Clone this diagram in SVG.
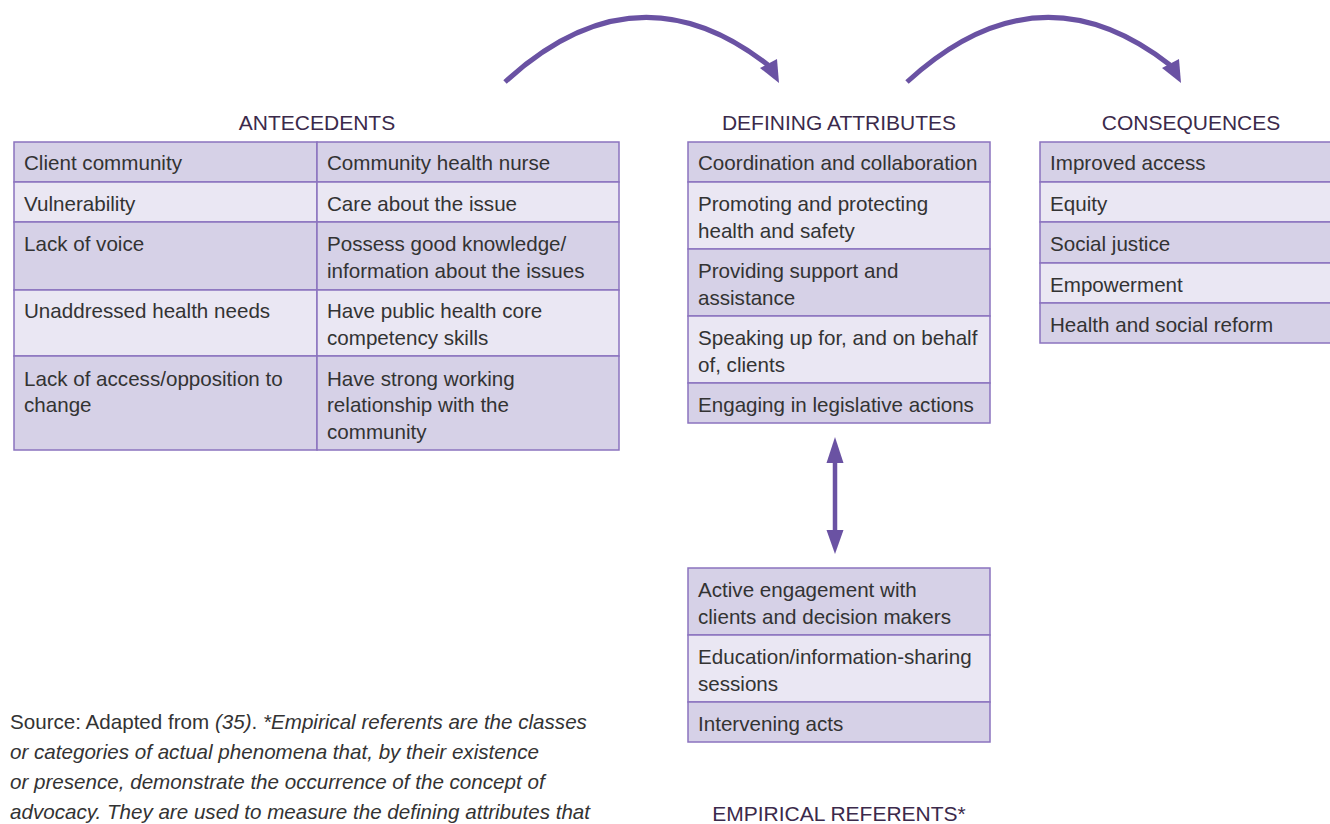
<svg xmlns="http://www.w3.org/2000/svg" width="1330" height="824" viewBox="0 0 1330 824">
<style>
  .dark { fill: #d6d1e7; stroke: #8b73bf; stroke-width: 1.5; }
  .light { fill: #eae7f3; stroke: #8b73bf; stroke-width: 1.5; }
  .t { font-family: "Liberation Sans", Arial, sans-serif; font-size: 20.6px; fill: #333333; }
  .h { font-family: "Liberation Sans", Arial, sans-serif; font-size: 21px; fill: #3b2a4b; text-anchor: middle; }
  .fn { font-family: "Liberation Sans", Arial, sans-serif; font-size: 20.6px; fill: #333333; }
  .it { font-style: italic; }
  .conn { fill: none; stroke: #6a52a3; }
  .head { fill: #6a52a3; }
</style>
<rect width="1330" height="824" fill="#ffffff"/>

<g id="connectors">
  <path class="conn" stroke-width="5" d="M505,82 Q636,-38 768,65"/>
  <polygon class="head" points="779,83 760,68 777,59"/>
  <path class="conn" stroke-width="5" d="M907,82 Q1038,-38 1170,65"/>
  <polygon class="head" points="1181,83 1162,68 1179,59"/>
  <line class="conn" stroke-width="4.5" x1="835" y1="460" x2="835" y2="532"/>
  <polygon class="head" points="835,437 826.5,463 843.5,463"/>
  <polygon class="head" points="835,554 826.5,530 843.5,530"/>
</g>

<g id="antecedents">
  <text class="h" x="317" y="130">ANTECEDENTS</text>
  <rect class="dark" x="14" y="142" width="303" height="40"/>
  <rect class="dark" x="317" y="142" width="302" height="40"/>
  <rect class="light" x="14" y="182" width="303" height="40"/>
  <rect class="light" x="317" y="182" width="302" height="40"/>
  <rect class="dark" x="14" y="222" width="303" height="68"/>
  <rect class="dark" x="317" y="222" width="302" height="68"/>
  <rect class="light" x="14" y="290" width="303" height="66"/>
  <rect class="light" x="317" y="290" width="302" height="66"/>
  <rect class="dark" x="14" y="356" width="303" height="94"/>
  <rect class="dark" x="317" y="356" width="302" height="94"/>
  <text class="t" x="24" y="170">Client community</text>
  <text class="t" x="327" y="170">Community health nurse</text>
  <text class="t" x="24" y="211">Vulnerability</text>
  <text class="t" x="327" y="211">Care about the issue</text>
  <text class="t" x="24" y="251">Lack of voice</text>
  <text class="t" x="327" y="251">Possess good knowledge/</text>
  <text class="t" x="327" y="278">information about the issues</text>
  <text class="t" x="24" y="318">Unaddressed health needs</text>
  <text class="t" x="327" y="318">Have public health core</text>
  <text class="t" x="327" y="345">competency skills</text>
  <text class="t" x="24" y="386">Lack of access/opposition to</text>
  <text class="t" x="24" y="412">change</text>
  <text class="t" x="327" y="386">Have strong working</text>
  <text class="t" x="327" y="412">relationship with the</text>
  <text class="t" x="327" y="439">community</text>
</g>

<g id="defining-attributes">
  <text class="h" x="839" y="130">DEFINING ATTRIBUTES</text>
  <rect class="dark" x="688" y="142" width="302" height="40"/>
  <rect class="light" x="688" y="182" width="302" height="67"/>
  <rect class="dark" x="688" y="249" width="302" height="67"/>
  <rect class="light" x="688" y="316" width="302" height="67"/>
  <rect class="dark" x="688" y="383" width="302" height="40"/>
  <text class="t" x="698" y="170">Coordination and collaboration</text>
  <text class="t" x="698" y="211">Promoting and protecting</text>
  <text class="t" x="698" y="238">health and safety</text>
  <text class="t" x="698" y="278">Providing support and</text>
  <text class="t" x="698" y="305">assistance</text>
  <text class="t" x="698" y="345">Speaking up for, and on behalf</text>
  <text class="t" x="698" y="372">of, clients</text>
  <text class="t" x="698" y="412">Engaging in legislative actions</text>
</g>

<g id="consequences">
  <text class="h" x="1191" y="130">CONSEQUENCES</text>
  <rect class="dark" x="1040" y="142" width="300" height="40"/>
  <rect class="light" x="1040" y="182" width="300" height="40"/>
  <rect class="dark" x="1040" y="222" width="300" height="41"/>
  <rect class="light" x="1040" y="263" width="300" height="40"/>
  <rect class="dark" x="1040" y="303" width="300" height="40"/>
  <text class="t" x="1050" y="170">Improved access</text>
  <text class="t" x="1050" y="211">Equity</text>
  <text class="t" x="1050" y="251">Social justice</text>
  <text class="t" x="1050" y="292">Empowerment</text>
  <text class="t" x="1050" y="332">Health and social reform</text>
</g>

<g id="empirical-referents">
  <rect class="dark" x="688" y="568" width="302" height="67"/>
  <rect class="light" x="688" y="635" width="302" height="67"/>
  <rect class="dark" x="688" y="702" width="302" height="40"/>
  <text class="t" x="698" y="597">Active engagement with</text>
  <text class="t" x="698" y="624">clients and decision makers</text>
  <text class="t" x="698" y="664">Education/information-sharing</text>
  <text class="t" x="698" y="691">sessions</text>
  <text class="t" x="698" y="731">Intervening acts</text>
  <text class="h" x="839" y="821">EMPIRICAL REFERENTS*</text>
</g>

<g id="footnote">
  <text class="fn" x="10" y="729">Source: Adapted from <tspan class="it">(35)</tspan>. <tspan class="it">*Empirical referents are the classes</tspan></text>
  <text class="fn it" x="10" y="759">or categories of actual phenomena that, by their existence</text>
  <text class="fn it" x="10" y="789">or presence, demonstrate the occurrence of the concept of</text>
  <text class="fn it" x="10" y="819">advocacy. They are used to measure the defining attributes that</text>
</g>
</svg>
